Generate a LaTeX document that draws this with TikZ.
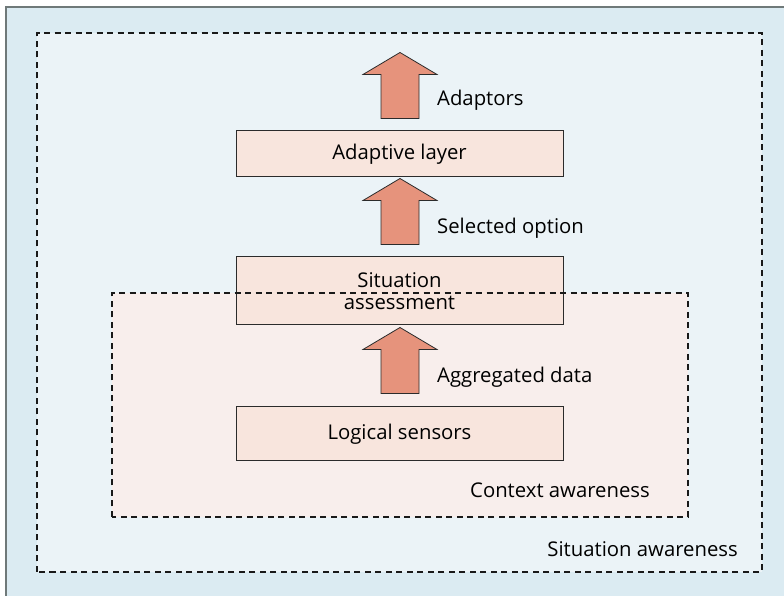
\documentclass[tikz,border=0pt]{standalone}
\usepackage{fontspec}
\setmainfont{Open Sans}
\usetikzlibrary{positioning,calc}

\definecolor{framebg}{HTML}{DBEBF2}
\definecolor{framerule}{HTML}{6F7979}
\definecolor{situbg}{HTML}{EBF3F7}
\definecolor{contextbg}{HTML}{F8EEEC}
\definecolor{boxfill}{HTML}{F8E5DD}
\definecolor{boxline}{HTML}{2B2B2B}
\definecolor{arrfill}{HTML}{E6937C}
\definecolor{arrline}{HTML}{2B2B2B}

\tikzset{
  layer/.style={draw=boxline, fill=boxfill, line width=1pt, minimum width=327pt,
                align=center, inner sep=0pt, font=\fontsize{20.3}{22}\selectfont},
  zone/.style={draw=black!90, line width=1.3pt, dash pattern=on 6pt off 4.5pt},
  flow/.style={draw=arrline, fill=arrfill, line width=0.8pt, line join=miter},
  tag/.style={inner sep=0pt, font=\fontsize{20.3}{24}\selectfont},
}

% block arrow pointing up, drawn from its base
\newcommand{\flowarrow}[1]{%
  \draw[flow] (#1) ++(-19,0) -- ++(0,44) -- ++(-18,0) -- ++(37,22)
              -- ++(37,-22) -- ++(-18,0) -- ++(0,-44) -- cycle;}

\begin{document}
\begin{tikzpicture}[x=1pt,y=1pt]
  \useasboundingbox (0,0) rectangle (784,596);

  % frame and zones
  \fill[framebg] (6,0) rectangle (784,589);
  \draw[framerule, line width=2pt] (6,0) -- (6,589) -- (784,589);
  \draw[zone, fill=situbg] (37,24) rectangle (762,563);
  \fill[contextbg] (112,79) rectangle (688,303);

  % layers
  \node[layer, minimum height=46pt] (adapt)   at (399.5,442) {Adaptive layer};
  \node[layer, minimum height=68pt] (assess)  at (399.5,305) {Situation\\assessment};
  \node[layer, minimum height=54pt] (sensors) at (399.5,162) {Logical sensors};

  \draw[zone] (112,79) rectangle (688,303);

  % arrows
  \coordinate (adaptorsbase) at ($(adapt.north)+(0.5,12)$);
  \coordinate (selectbase)   at ($(assess.north)+(0.5,12)$);
  \coordinate (aggbase)      at ($(sensors.north)+(0.5,13)$);
  \flowarrow{adaptorsbase}
  \flowarrow{selectbase}
  \flowarrow{aggbase}

  % labels
  \node[tag, anchor=base west] (adaptorslbl) at (437,490) {Adaptors};
  \node[tag, anchor=base west] (selectlbl)   at (437,362) {Selected option};
  \node[tag, anchor=base west] (agglbl)      at (437,213) {Aggregated data};
  \node[tag, anchor=base east] (contextlbl)  at (650,98)  {Context awareness};
  \node[tag, anchor=base east] (situlbl)     at (738,39)  {Situation awareness};
\end{tikzpicture}
\end{document}
